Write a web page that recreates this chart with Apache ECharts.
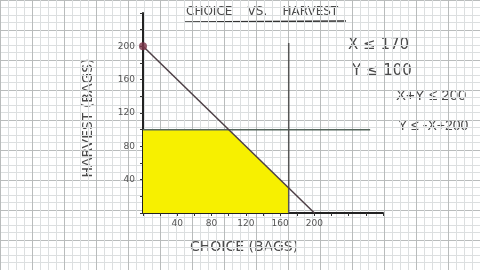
<!DOCTYPE html>
<html><head><meta charset="utf-8">
<script src="https://cdn.jsdelivr.net/npm/echarts@6/dist/echarts.min.js"></script>
<style>html,body{margin:0;padding:0;background:#fff}#c{width:480px;height:270px}</style>
</head><body><div id="c"></div>
<script>
// Data
const feasibleRegion = [[0,100],[100,100],[170,30],[170,0]];
const lineXY200 = [[0,200],[200,0]];
const lineY100 = [[0,100],[265,100]];
const lineX170 = [[170,0],[170,204]];
const cornerPoint = [[0,200]];
const tickLabels = [40,80,120,160,200];
const equations = ['X ≤ 170','Y ≤ 100','X+Y ≤ 200','Y ≤ -X+200'];

const ink = '#4a4a4a';
const chart = echarts.init(document.getElementById('c'), null, {renderer:'canvas'});
const sx = 240/280, sy = 200/240;
const bgLeft = 143 - 200*sx, bgTop = 213 - 280*sy;
const bgAxisX = {type:'value', gridIndex:0, min:-200, max:400, interval:40,
  axisLine:{show:false}, axisTick:{show:false}, axisLabel:{show:false},
  splitLine:{show:true, lineStyle:{color:'#b9bcbc', width:1}},
  minorTick:{show:false, splitNumber:4},
  minorSplitLine:{show:true, lineStyle:{color:'#dcdfe0', width:1}}};
const bgAxisY = Object.assign({}, bgAxisX, {min:-80, max:280});

chart.setOption({
  animation:false,
  backgroundColor:'#ffffff',
  grid:[
    {left:bgLeft, top:bgTop, width:600*sx, height:360*sy},
    {left:143, top:13, width:240, height:200}
  ],
  xAxis:[
    bgAxisX,
    {type:'value', gridIndex:1, min:0, max:280, interval:20,
     axisLine:{show:true, onZero:false, lineStyle:{color:'#222', width:2}},
     axisTick:{show:true, length:3, inside:false, lineStyle:{color:'#333'}},
     splitLine:{show:false},
     axisLabel:{color:'#555', fontSize:9, fontFamily:'DejaVu Sans', margin:6,
       formatter:v => tickLabels.includes(v) ? String(v) : ''}}
  ],
  yAxis:[
    bgAxisY,
    {type:'value', gridIndex:1, min:0, max:240, interval:20,
     axisLine:{show:true, onZero:false, lineStyle:{color:'#222', width:2}},
     axisTick:{show:true, length:3, lineStyle:{color:'#333'}},
     splitLine:{show:false},
     axisLabel:{color:'#555', fontSize:9, fontFamily:'DejaVu Sans', margin:8,
       formatter:v => tickLabels.includes(v) ? String(v) : ''}}
  ],
  series:[
    {type:'line', xAxisIndex:1, yAxisIndex:1, data:feasibleRegion, symbol:'none',
     lineStyle:{width:0}, areaStyle:{color:'#f7f000', opacity:1}, z:1},
    {type:'line', xAxisIndex:1, yAxisIndex:1, data:lineY100, symbol:'none',
     lineStyle:{color:'#55665c', width:1.5}, z:2},
    {type:'line', xAxisIndex:1, yAxisIndex:1, data:lineX170, symbol:'none',
     lineStyle:{color:'#555', width:1.5}, z:2},
    {type:'line', xAxisIndex:1, yAxisIndex:1, data:lineXY200, symbol:'none',
     lineStyle:{color:'#4d3f45', width:1.5}, z:3},
    {type:'scatter', xAxisIndex:1, yAxisIndex:1, data:cornerPoint, symbolSize:8,
     itemStyle:{color:'#7a3448'}, z:4}
  ],
  graphic:[
    {type:'text', left:186, top:6, style:{text:'CHOICE    VS.    HARVEST', fill:ink, font:'12px "DejaVu Sans"'}},
    {type:'line', shape:{x1:184, y1:22, x2:346, y2:21}, style:{stroke:'#333', lineWidth:1.5}},
    {type:'text', x:88, y:118, rotation:Math.PI/2, style:{text:'HARVEST (BAGS)', fill:ink, font:'14px "DejaVu Sans"', align:'center', verticalAlign:'middle'}},
    {type:'text', left:190, top:240, style:{text:'CHOICE (BAGS)', fill:ink, font:'14px "DejaVu Sans"'}},
    {type:'text', left:348, top:38, style:{text:equations[0], fill:ink, font:'15px "DejaVu Sans"'}},
    {type:'text', left:352, top:64, style:{text:equations[1], fill:ink, font:'15px "DejaVu Sans"'}},
    {type:'text', left:396, top:88, style:{text:equations[2], fill:ink, font:'15px "Liberation Sans"'}},
    {type:'text', left:398, top:119, style:{text:equations[3], fill:ink, font:'14px "Liberation Sans"'}}
  ]
});
</script></body></html>
